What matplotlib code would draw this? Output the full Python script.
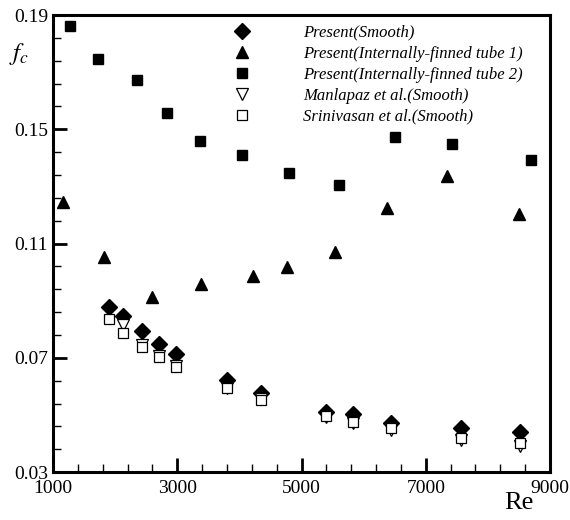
import numpy as np
import matplotlib.pyplot as plt
from matplotlib.ticker import FixedLocator

plt.rcParams['font.family'] = ['Liberation Serif', 'DejaVu Serif']
plt.rcParams['mathtext.fontset'] = 'stix'

# Present (Smooth)
re_smooth = [1906, 2127, 2433, 2707, 2981, 3802, 4349, 5396, 5831, 6443, 7570, 8520]
fc_smooth = [0.0878, 0.0846, 0.0794, 0.0748, 0.0713, 0.0622, 0.0577, 0.0510, 0.0503, 0.0471, 0.0454, 0.0440]

# Present (Internally-finned tube 1)
re_fin1 = [1161, 1821, 2594, 3383, 4221, 4768, 5541, 6378, 7345, 8504]
fc_fin1 = [0.1245, 0.1053, 0.0913, 0.0958, 0.0986, 0.1018, 0.1070, 0.1224, 0.1336, 0.1203]

# Present (Internally-finned tube 2)
re_fin2 = [1274, 1725, 2353, 2836, 3367, 4043, 4800, 5605, 6507, 7425, 8697]
fc_fin2 = [0.1861, 0.1746, 0.1672, 0.1557, 0.1459, 0.1410, 0.1347, 0.1305, 0.1473, 0.1448, 0.1392]

# Manlapaz et al. (Smooth)
re_manl = [2127, 2433, 2707, 2981, 3802, 4349, 5396, 5831, 6443, 7570, 8520]
fc_manl = [0.0815, 0.0745, 0.0705, 0.0670, 0.0596, 0.0555, 0.0493, 0.0473, 0.0449, 0.0413, 0.0393]

# Srinivasan et al. (Smooth)
re_srin = [1906, 2127, 2433, 2707, 2981, 3802, 4349, 5396, 5831, 6443, 7570, 8520]
fc_srin = [0.0836, 0.0787, 0.0738, 0.0703, 0.0668, 0.0594, 0.0552, 0.0496, 0.0475, 0.0454, 0.0419, 0.0401]

x_major = [1000, 3000, 5000, 7000, 9000]
y_major = [0.03, 0.07, 0.11, 0.15, 0.19]

fig = plt.figure(figsize=(5.7, 5.2), dpi=100)
ax = fig.add_axes([0.093, 0.092, 0.872, 0.879])

ax.plot(re_smooth, fc_smooth, 'D', color='black', ms=8, ls='none', label='Present(Smooth)')
ax.plot(re_fin1, fc_fin1, '^', color='black', ms=8, ls='none', label='Present(Internally-finned tube 1)')
ax.plot(re_fin2, fc_fin2, 's', color='black', ms=7.5, ls='none', label='Present(Internally-finned tube 2)')
ax.plot(re_manl, fc_manl, 'v', mfc='white', mec='black', mew=0.9, ms=8, ls='none', label='Manlapaz et al.(Smooth)')
ax.plot(re_srin, fc_srin, 's', mfc='white', mec='black', mew=0.9, ms=7.5, ls='none', label='Srinivasan et al.(Smooth)')

ax.set_xlim(1000, 9000)
ax.set_ylim(0.03, 0.19)
ax.xaxis.set_major_locator(FixedLocator(x_major))
ax.xaxis.set_minor_locator(FixedLocator(np.arange(1000, 9001, 400)))
ax.yaxis.set_major_locator(FixedLocator(y_major))
ax.yaxis.set_minor_locator(FixedLocator(np.linspace(0.03, 0.19, 21)))
ax.yaxis.set_major_formatter(plt.FuncFormatter(lambda v, p: f'{v:.2f}'))

ax.tick_params(which='both', direction='in', top=False, right=False, labelsize=14, colors='black')
ax.tick_params(which='major', length=10, width=2)
ax.tick_params(which='minor', length=6, width=1)
ax.tick_params(axis='x', pad=6)
for s in ax.spines.values():
    s.set_linewidth(2.2)

fig.text(0.885, 0.022, 'Re', fontsize=19)
fig.text(0.015, 0.885, r'$f_c$', fontsize=18)

leg = ax.legend(loc='upper left', bbox_to_anchor=(0.347, 0.997), frameon=False,
                prop={'style': 'italic', 'size': 12}, handlelength=1.0,
                handletextpad=3.15, borderpad=0, labelspacing=0.3, numpoints=1)

fig.savefig('out.png', dpi=100)
